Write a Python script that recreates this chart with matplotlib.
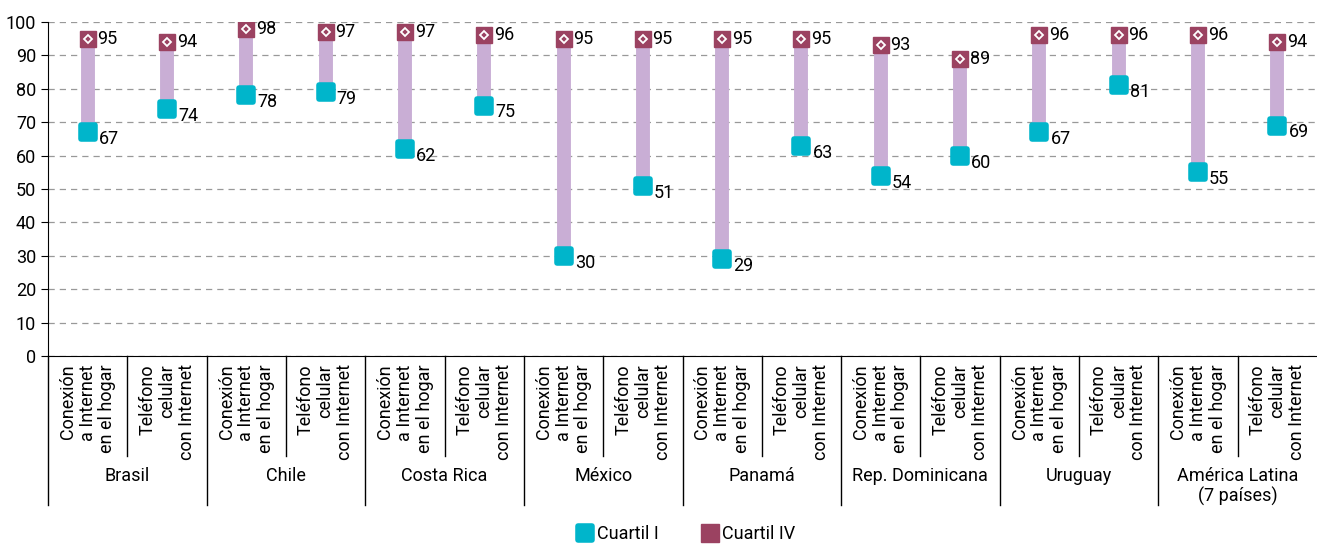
import matplotlib.pyplot as plt
from matplotlib.markers import MarkerStyle
from matplotlib.lines import Line2D
import matplotlib.transforms as mtransforms

plt.rcParams['font.family'] = ['Roboto', 'DejaVu Sans']

# data
countries = ['Brasil', 'Chile', 'Costa Rica', 'México', 'Panamá',
             'Rep. Dominicana', 'Uruguay', 'América Latina\n(7 países)']
items = ['Conexión\na Internet\nen el hogar', 'Teléfono\ncelular\ncon Internet']
q1 = [67, 74, 78, 79, 62, 75, 30, 51, 29, 63, 54, 60, 67, 81, 55, 69]
q4 = [95, 94, 98, 97, 97, 96, 95, 95, 95, 95, 93, 89, 96, 96, 96, 94]

cyan = '#00b5cb'
maroon = '#9b4261'
lilac = '#c9aed5'
fs = 13

fig = plt.figure(figsize=(13.17, 5.46), dpi=100)
ax = fig.add_axes([48 / 1317, 1 - 356 / 546, 1 - 48 / 1317, 334 / 546])

x = list(range(len(q1)))
ax.vlines(x, q1, q4, color=lilac, linewidth=10, zorder=2)
rounded = MarkerStyle('s', joinstyle='round')
ax.plot(x, q1, linestyle='none', marker=rounded, markersize=10.5,
        markerfacecolor=cyan, markeredgecolor=cyan, markeredgewidth=4, zorder=3)
ax.plot(x, q4, linestyle='none', marker='s', markersize=11.5,
        markerfacecolor=maroon, markeredgecolor=maroon, zorder=3)
ax.plot(x, q4, linestyle='none', marker='D', markersize=4.5,
        markerfacecolor=maroon, markeredgecolor='white', markeredgewidth=1.3, zorder=4)

for xi, a, b in zip(x, q1, q4):
    ax.annotate(str(b), (xi, b), xytext=(7, 0), textcoords='offset points',
                ha='left', va='center', fontsize=fs)
    ax.annotate(str(a), (xi, a), xytext=(8, -5), textcoords='offset points',
                ha='left', va='center', fontsize=fs)

ax.set_xlim(-0.5, 15.5)
ax.set_ylim(0, 100)
ax.set_yticks(range(0, 101, 10))
ax.tick_params(axis='y', labelsize=fs, length=5, direction='out')
ax.set_xticks([])
ax.yaxis.grid(True, linestyle=(0, (5, 4)), color='#999999', linewidth=0.9)
ax.set_axisbelow(True)
for s in ['top', 'right']:
    ax.spines[s].set_visible(False)
ax.spines['bottom'].set_color('black')
ax.spines['left'].set_color('black')

trans = mtransforms.blended_transform_factory(ax.transData, ax.transAxes)
for i in range(len(q1)):
    ax.text(i, -0.025, items[i % 2], transform=trans, rotation=90,
            ha='center', va='top', multialignment='right', fontsize=fs,
            linespacing=1.12)
for g in range(len(countries)):
    ax.plot([2 * g + 0.5, 2 * g + 0.5], [0, -0.30], transform=trans,
            color='black', linewidth=1, clip_on=False)
    ax.plot([2 * g - 0.5, 2 * g - 0.5], [0, -0.445], transform=trans,
            color='black', linewidth=1, clip_on=False)
    ax.text(2 * g + 0.5, -0.332, countries[g], transform=trans,
            ha='center', va='top', fontsize=fs, linespacing=1.1)

handles = [Line2D([], [], linestyle='none', marker=rounded, markersize=10.5,
                  markerfacecolor=cyan, markeredgecolor=cyan, markeredgewidth=4),
           Line2D([], [], linestyle='none', marker='s', markersize=13,
                  markerfacecolor=maroon, markeredgecolor=maroon)]
fig.legend(handles, ['Cuartil I', 'Cuartil IV'], loc='lower center',
           bbox_to_anchor=(0.52, -0.025), ncol=2, frameon=False, fontsize=fs,
           handletextpad=0.1, handlelength=1.2, columnspacing=2.2)

fig.savefig('out.png', dpi=100)
